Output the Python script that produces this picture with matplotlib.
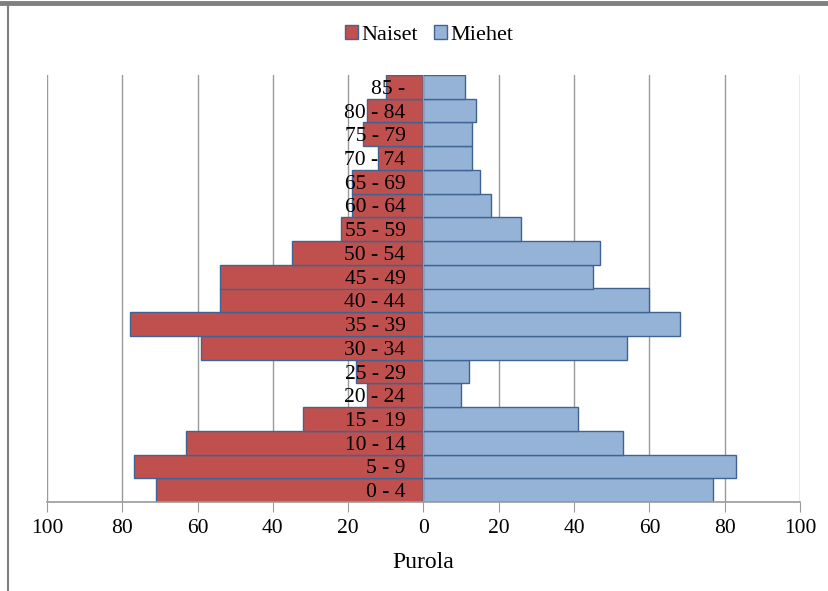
import matplotlib
matplotlib.use("Agg")
import matplotlib.pyplot as plt
from matplotlib.lines import Line2D
from matplotlib.patches import Patch

age_groups = ["0 - 4", "5 - 9", "10 - 14", "15 - 19", "20 - 24", "25 - 29",
              "30 - 34", "35 - 39", "40 - 44", "45 - 49", "50 - 54", "55 - 59",
              "60 - 64", "65 - 69", "70 - 74", "75 - 79", "80 - 84", "85 -"]
naiset = [71, 77, 63, 32, 15, 18, 59, 78, 54, 54, 35, 22, 19, 19, 12, 16, 15, 10]
miehet = [77, 83, 53, 41, 10, 12, 54, 68, 60, 45, 47, 26, 18, 15, 13, 13, 14, 11]
xticks = [-100, -80, -60, -40, -20, 0, 20, 40, 60, 80, 100]
xticklabels = ["100", "80", "60", "40", "20", "0", "20", "40", "60", "80", "100"]

plt.rcParams['font.family'] = ['Liberation Serif', 'DejaVu Serif']

fig = plt.figure(figsize=(8.29, 5.91), dpi=100)
ax = fig.add_axes([47/829, 1-502/591, (800-47)/829, (502-75)/591])

red = "#C0504D"
blue = "#95B3D7"
edge = "#3F6494"
grid_c = '#9A9A9A'

for s in ['top', 'right']:
    ax.spines[s].set_visible(False)
ax.spines['left'].set_position(('data', 0))

y = list(range(len(age_groups)))
ax.barh(y, [-v for v in naiset], height=1.0, color=red, edgecolor=edge, linewidth=1.0, zorder=2)
ax.barh(y, miehet, height=1.0, color=blue, edgecolor=edge, linewidth=1.0, zorder=2)

for xv in xticks:
    ax.axvline(xv, color=grid_c, linewidth=1.0, zorder=0)

ax.set_xlim(-100, 100)
ax.set_ylim(-0.5, len(age_groups) - 0.5)
ax.set_xticks(xticks)
ax.set_xticklabels(xticklabels)
ax.set_yticks(y)
ax.set_yticklabels(age_groups)
ax.set_axisbelow(False)

ax.spines['left'].set_color(grid_c)
ax.spines['left'].set_zorder(3)
ax.spines['bottom'].set_color(grid_c)
ax.spines['bottom'].set_linewidth(1.2)
ax.spines['bottom'].set_zorder(3)
ax.tick_params(axis='y', length=0, pad=13, labelsize=15.5)
ax.tick_params(axis='x', direction='out', length=7, color=grid_c, pad=5, labelsize=15.5)

ax.set_xlabel("Purola", fontsize=17, labelpad=10)

handles = [Patch(facecolor=red, edgecolor=edge, label="Naiset"),
           Patch(facecolor=blue, edgecolor=edge, label="Miehet")]
fig.legend(handles=handles, loc='center', bbox_to_anchor=(429/829, 1-35/591),
           ncol=2, frameon=False, fontsize=16, handlelength=0.6, handleheight=0.6,
           handletextpad=0.15, columnspacing=0.7)

# border remnants
fig.add_artist(Line2D([0, 1], [1-3/591, 1-3/591], transform=fig.transFigure,
                      color='#808080', linewidth=3.5))
fig.add_artist(Line2D([8/829, 8/829], [0, 1-3/591], transform=fig.transFigure,
                      color='#808080', linewidth=1.5))

fig.savefig("out.png", dpi=100)
